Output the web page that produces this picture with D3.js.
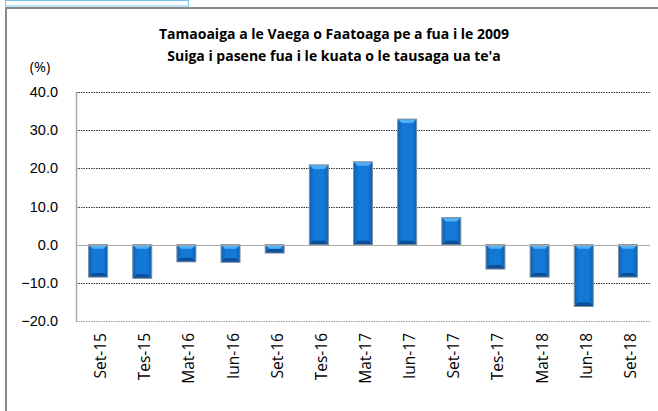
<!DOCTYPE html>
<html>
<head>
<meta charset="utf-8">
<script src="https://cdn.jsdelivr.net/npm/d3@7"></script>
<style>
  body { margin: 0; background: #fff; }
  svg { display: block; font-family: "Open Sans", "Noto Sans", sans-serif; }
</style>
</head>
<body>
<svg id="chart" width="658" height="411"></svg>
<script>
// quarters and % change vs same quarter a year earlier
const quarters = ["Set-15", "Tes-15", "Mat-16", "Iun-16", "Set-16", "Tes-16", "Mat-17",
  "Iun-17", "Set-17", "Tes-17", "Mat-18", "Iun-18", "Set-18"];
const changes = [-8.5, -8.8, -4.5, -4.6, -2.2, 20.9, 21.7, 32.9, 7.1, -6.4, -8.5, -16.2, -8.5];
const yTicks = [-20, -10, 0, 10, 20, 30, 40];
const titleLines = ["Tamaoaiga a le Vaega o Faatoaga pe a fua i le 2009",
  "Suiga i pasene fua i le kuata o le tausaga ua te'a"];

const svg = d3.select("#chart");
const plotL = 76, plotR = 650, plotT = 92, plotB = 321;

// frame + selection box bits
svg.append("rect").attr("x", 5.5).attr("y", 0.5).attr("width", 183).attr("height", 5.5)
  .attr("fill", "none").attr("stroke", "#79c7ee").attr("stroke-width", 1);
svg.append("path").attr("d", "M6,420 V8 H670")
  .attr("fill", "none").attr("stroke", "#8a8a8a").attr("stroke-width", 2);

const x = d3.scaleBand().domain(quarters).range([plotL, plotR]).paddingInner(0.57).paddingOuter(0.285);
const y = d3.scaleLinear().domain([-20, 40]).range([plotB, plotT]);

// gradients
const defs = svg.append("defs");
const g = defs.append("linearGradient").attr("id", "barGrad").attr("x1", 0).attr("x2", 1);
g.append("stop").attr("offset", "0%").attr("stop-color", "#0b5fb4");
g.append("stop").attr("offset", "25%").attr("stop-color", "#1479d6");
g.append("stop").attr("offset", "75%").attr("stop-color", "#1479d6");
g.append("stop").attr("offset", "100%").attr("stop-color", "#0b5fb4");

// gridlines
svg.append("g").selectAll("line")
  .data(yTicks.filter(d => d !== 0))
  .join("line")
  .attr("x1", plotL).attr("x2", plotR)
  .attr("y1", d => Math.round(y(d)) + 0.5).attr("y2", d => Math.round(y(d)) + 0.5)
  .attr("stroke", d => d === -20 ? "#999" : "#333")
  .attr("stroke-dasharray", "1.5,1");

// y axis
const yAxis = svg.append("g").attr("transform", `translate(${plotL},0)`)
  .call(d3.axisLeft(y).tickValues(yTicks).tickFormat(d3.format(".1f")).tickSize(0).tickPadding(18));
yAxis.select(".domain").attr("stroke", "#aaa").attr("stroke-width", 1.5);
yAxis.selectAll("text").attr("font-size", 14.5).attr("fill", "#000");

svg.append("text").attr("x", 40).attr("y", 72).attr("text-anchor", "middle")
  .attr("font-size", 14.5).text("(%)");

// bars
const bars = svg.append("g").selectAll("g").data(quarters).join("g");
bars.each(function (q, i) {
  const v = changes[i];
  const bx = x(q), bw = x.bandwidth();
  const y0 = Math.min(y(v), y(0)), h = Math.abs(y(v) - y(0));
  const sel = d3.select(this);
  const b = Math.min(4, h / 2);
  sel.append("rect").attr("x", bx).attr("y", y0).attr("width", bw).attr("height", h)
    .attr("fill", "url(#barGrad)");
  // bevel: light top, dark bottom
  sel.append("path")
    .attr("d", `M${bx},${y0} H${bx + bw} L${bx + bw - b},${y0 + b} H${bx + b} Z`)
    .attr("fill", "#4fb0f5");
  sel.append("path")
    .attr("d", `M${bx},${y0 + h} H${bx + bw} L${bx + bw - b},${y0 + h - b} H${bx + b} Z`)
    .attr("fill", "#0a4f98");
  sel.append("rect").attr("x", bx).attr("y", y0).attr("width", bw).attr("height", h)
    .attr("fill", "none").attr("stroke", "#7f8fa0").attr("stroke-width", 1);
});

// zero line
svg.append("line").attr("x1", plotL).attr("x2", plotR)
  .attr("y1", Math.round(y(0)) + 0.5).attr("y2", Math.round(y(0)) + 0.5)
  .attr("stroke", "#aaa").attr("stroke-width", 1);

// x labels, rotated
svg.append("g").selectAll("text").data(quarters).join("text")
  .attr("transform", d => `translate(${x(d) + x.bandwidth() / 2 + 8},${plotB + 12}) rotate(-90)`)
  .attr("text-anchor", "end")
  .attr("font-size", 15.5)
  .text(d => d);

// title
svg.append("g").selectAll("text").data(titleLines).join("text")
  .attr("x", 334).attr("y", (d, i) => 39 + i * 22)
  .attr("text-anchor", "middle").attr("font-size", 14).attr("font-weight", "bold")
  .text(d => d);
</script>
</body>
</html>
